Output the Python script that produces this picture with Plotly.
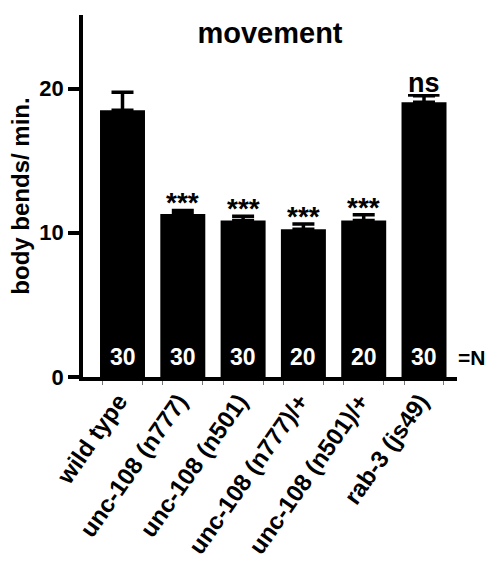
import plotly.graph_objects as go

categories = ["wild type", "unc-108 (n777)", "unc-108 (n501)",
              "unc-108 (n777)/+", "unc-108 (n501)/+", "rab-3 (js49)"]
means = [18.5, 11.3, 10.85, 10.25, 10.85, 19.05]
sems = [1.25, 0.25, 0.3, 0.35, 0.4, 0.45]
n_values = ["30", "30", "30", "20", "20", "30"]
significance = ["", "***", "***", "***", "***", "<u>ns</u>"]

FONT = "Liberation Sans, Arial, sans-serif"
xpos = list(range(len(categories)))
half = 0.33
minor_ticks = sorted([x - half for x in xpos] + [x + half for x in xpos])

fig = go.Figure()
fig.add_trace(go.Bar(
    x=xpos, y=means,
    marker=dict(color="black", line=dict(width=0)),
    error_y=dict(type="data", array=sems, arrayminus=[0] * len(sems),
                 symmetric=False, thickness=3.5, width=11, color="black"),
    showlegend=False, hoverinfo="skip",
))

annotations = []
for x, m, s, sig, n in zip(xpos, means, sems, significance, n_values):
    annotations.append(dict(x=x, y=0, xref="x", yref="y", text=f"<b>{n}</b>",
                            showarrow=False, yanchor="bottom", yshift=5,
                            font=dict(family=FONT, size=23, color="white")))
    if sig:
        big = sig.startswith("<u>")
        annotations.append(dict(x=x, y=m + s, xref="x", yref="y",
                                text=f"<b>{sig}</b>", showarrow=False,
                                yanchor="bottom", yshift=(-4 if big else -10),
                                font=dict(family=FONT, size=(27 if big else 28),
                                          color="black")))
annotations.append(dict(x=1, y=0, xref="paper", yref="y", text="<b>=N</b>",
                        showarrow=False, xanchor="left", yanchor="bottom",
                        xshift=-1, yshift=6,
                        font=dict(family=FONT, size=21, color="black")))

fig.update_layout(
    width=488, height=561,
    margin=dict(l=83, r=31, t=15, b=184),
    paper_bgcolor="white", plot_bgcolor="white",
    bargap=0.254,
    font=dict(family=FONT, color="black"),
    title=dict(text="<b>movement</b>", x=0.5, xref="paper", xanchor="center",
               y=1 - 33 / 561, yanchor="middle", yref="container",
               font=dict(family=FONT, size=29, color="black")),
    annotations=annotations,
    xaxis=dict(
        range=[-0.655, 5.547], tickmode="array", tickvals=xpos,
        ticktext=[f"<b>{c}</b>" for c in categories], tickangle=-55,
        ticks="", showline=True, linewidth=3.5, linecolor="black",
        showgrid=False, zeroline=False, automargin=False,
        ticklabelstandoff=-3, ticklabelshift=-4,
        tickfont=dict(family=FONT, size=24, color="black"),
        minor=dict(tickmode="array", tickvals=minor_ticks, ticks="outside",
                   ticklen=4, tickwidth=1, tickcolor="#777777"),
    ),
    yaxis=dict(
        range=[0, 25.1], tickmode="array", tickvals=[0, 10, 20],
        ticktext=["<b>0</b>", "<b>10</b>", "<b>20</b>"],
        ticks="outside", ticklen=11, tickwidth=3.5, tickcolor="black",
        showline=True, linewidth=3.5, linecolor="black",
        showgrid=False, zeroline=False, automargin=False,
        tickfont=dict(family=FONT, size=22, color="black"),
        title=dict(text="<b>body bends/ min.</b>", standoff=4,
                   font=dict(family=FONT, size=24, color="black")),
    ),
)

fig.write_html("out.html",
               config={"displayModeBar": False},
               post_script="document.body.style.margin='0';"
                           "document.body.style.overflow='hidden';")
